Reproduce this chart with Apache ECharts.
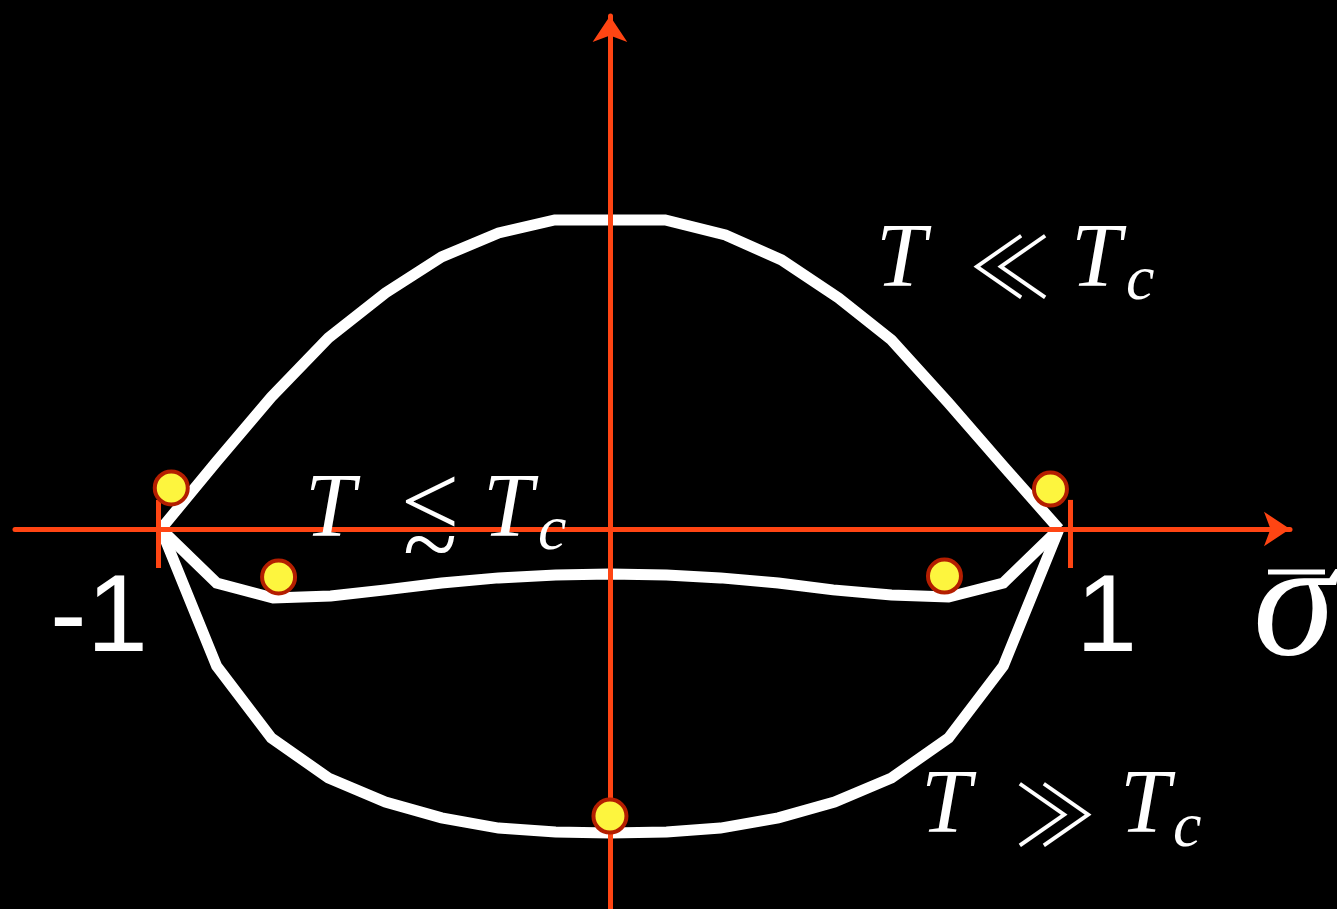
<!DOCTYPE html>
<html>
<head>
<meta charset="utf-8">
<style>
html, body { margin: 0; padding: 0; background: #000; }
#main { width: 1337px; height: 909px; }
</style>
<script src="https://cdn.jsdelivr.net/npm/echarts@6/dist/echarts.min.js"></script>
</head>
<body>
<div id="main"></div>
<script>
// 自由能 f(sigma) 三条曲线: [sigma, f]
var lowT = [[-1, 0], [-0.876, 0.225], [-0.754, 0.44], [-0.627, 0.637], [-0.5, 0.787], [-0.375, 0.907],
    [-0.248, 0.987], [-0.123, 1.03], [0.123, 1.03], [0.257, 0.98], [0.382, 0.897], [0.509, 0.77],
    [0.627, 0.63], [0.754, 0.42], [0.876, 0.21], [1, 0]];
var nearT = [[-1, 0], [-0.876, -0.18], [-0.75, -0.23], [-0.622, -0.223], [-0.5, -0.203], [-0.375, -0.18],
    [-0.248, -0.163], [-0.121, -0.153], [0, -0.15], [0.126, -0.153], [0.246, -0.163], [0.375, -0.18],
    [0.497, -0.203], [0.627, -0.22], [0.754, -0.227], [0.876, -0.18], [1, 0]];
var highT = [[-1, 0], [-0.876, -0.457], [-0.754, -0.697], [-0.627, -0.83], [-0.5, -0.91], [-0.375, -0.963],
    [-0.248, -0.997], [-0.121, -1.01], [0, -1.013], [0.126, -1.01], [0.246, -0.997], [0.375, -0.963],
    [0.5, -0.91], [0.627, -0.83], [0.754, -0.697], [0.876, -0.457], [1, 0]];
// 黄色标记点
var dots = [[-0.977, 0.137], [-0.738, -0.16], [0.981, 0.133], [0.745, -0.157], [0, -0.957]];
// x 轴上 -1 / 1 的刻度
var tickValues = [-1.007, 1.025];
var tickSpan = [0.097, -0.13];

var AXIS_COLOR = '#ff4513';
var myChart = echarts.init(document.getElementById('main'));

function curve(name, data) {
    return {
        name: name,
        type: 'line',
        data: data,
        symbol: 'none',
        z: 1,
        lineStyle: { color: '#fff', width: 11, join: 'miter' },
        silent: true,
        animation: false
    };
}

var SERIF = '"Liberation Serif", "DejaVu Serif", serif';
var CJK = '"Noto Sans CJK JP", "DejaVu Sans", sans-serif';
// 文字(公式): 文本, x, y, 字体
var texts = [
    ['T', 876, 262, 'italic 90px ' + SERIF], ['≪', 1010, 266, '300 84px ' + CJK], ['T', 1071, 262, 'italic 90px ' + SERIF], ['c', 1126, 282, 'italic 64px ' + SERIF],
    ['T', 305, 512, 'italic 90px ' + SERIF], ['<', 430, 509, '104px ' + SERIF], ['~', 430, 551, '100px ' + SERIF], ['T', 483, 512, 'italic 90px ' + SERIF], ['c', 538, 532, 'italic 64px ' + SERIF],
    ['T', 921, 808, 'italic 90px ' + SERIF], ['≫', 1055, 814, '300 84px ' + CJK], ['T', 1120, 808, 'italic 90px ' + SERIF], ['c', 1173, 829, 'italic 64px ' + SERIF]
];
var graphics = [];
texts.forEach(function (t) {
    var isMain = t[0] === 'T' || t[0] === 'c';
    graphics.push({
        type: 'text', x: t[1], y: t[2], z: 10,
        style: { text: t[0], fill: '#fff', align: isMain ? 'left' : 'center', verticalAlign: 'middle', font: t[3] }
    });
});
graphics.push({ type: 'text', x: 50, y: 621, z: 10, style: { text: '-1', fill: '#fff', align: 'left', verticalAlign: 'middle', font: '110px "Liberation Sans", Arial, sans-serif' } });
graphics.push({ type: 'text', x: 1076, y: 621, z: 10, style: { text: '1', fill: '#fff', align: 'left', verticalAlign: 'middle', font: '110px "Liberation Sans", Arial, sans-serif' } });
graphics.push({ type: 'text', x: 1253, y: 610, z: 10, style: { text: 'σ', fill: '#fff', align: 'left', verticalAlign: 'middle', font: 'italic 166px "Liberation Serif", "DejaVu Serif", serif' } });
graphics.push({ type: 'line', z: 10, shape: { x1: 1268, y1: 572, x2: 1325, y2: 572 }, style: { stroke: '#fff', lineWidth: 5 } });

var option = {
    backgroundColor: '#000',
    animation: false,
    grid: { left: 15, right: 47, top: 16, bottom: 0 },
    xAxis: {
        type: 'value',
        min: -1.325,
        max: 1.5145,
        z: 3,
        axisLine: {
            onZero: true,
            symbol: ['none', 'arrow'],
            symbolSize: [26, 26],
            lineStyle: { color: AXIS_COLOR, width: 5 }
        },
        axisTick: { show: false },
        axisLabel: { show: false },
        splitLine: { show: false }
    },
    yAxis: {
        type: 'value',
        min: -1.2667,
        max: 1.71,
        z: 3,
        axisLine: {
            onZero: true,
            symbol: ['none', 'arrow'],
            symbolSize: [26, 26],
            lineStyle: { color: AXIS_COLOR, width: 5 }
        },
        axisTick: { show: false },
        axisLabel: { show: false },
        splitLine: { show: false }
    },
    series: [
        curve('T<<Tc', lowT),
        curve('T~Tc', nearT),
        curve('T>>Tc', highT),
        {
            type: 'line',
            data: [],
            z: 4,
            markLine: {
                silent: true,
                symbol: 'none',
                animation: false,
                label: { show: false },
                lineStyle: { color: AXIS_COLOR, width: 5, type: 'solid' },
                data: tickValues.map(function (v) {
                    return [{ coord: [v, tickSpan[0]] }, { coord: [v, tickSpan[1]] }];
                })
            }
        },
        {
            type: 'scatter',
            data: dots,
            z: 5,
            symbolSize: 33,
            itemStyle: { color: '#fdf53e', borderColor: '#b41e00', borderWidth: 4, opacity: 1 },
            silent: true
        }
    ],
    graphic: graphics
};
if (option && typeof option === "object") {
    myChart.setOption(option, true);
}
window.addEventListener('resize', function () {
    myChart.resize();
});
</script>
</body>
</html>
